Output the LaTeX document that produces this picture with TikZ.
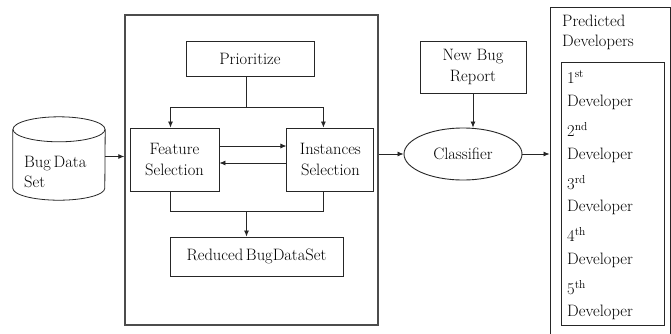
\documentclass[tikz,border=0pt]{standalone}
\usepackage{fontspec}
\usetikzlibrary{arrows.meta, positioning, shapes.geometric, calc}

\begin{document}
\begin{tikzpicture}[
  x=1pt, y=-1pt,
  font=\fontsize{16.5}{20.5}\selectfont,
  box/.style = {
    rectangle, draw=black!85, line width=0.9pt,
    align=center, inner sep=2pt
  },
  frame/.style = {rectangle, draw=black!70, line width=1.4pt, inner sep=0pt},
  oval/.style = {
    ellipse, draw=black!85, line width=0.9pt, inner sep=0pt
  },
  lbl/.style = {anchor=west, align=left, inner sep=0pt},
  link/.style = {line width=0.8pt, draw=black!85},
  arr/.style = {-{Latex[length=6pt,width=5pt]}, line width=0.8pt, draw=black!85}
]
\useasboundingbox (0,0) rectangle (671,333);
\fill[white] (0,0) rectangle (671,333);
\clip (0,0) rectangle (671,333);

% bug data set (cylinder)
\node[minimum width=92pt, minimum height=83pt, inner sep=0pt] (bds) at (59,158.5) {};
\draw[link] ([yshift=-12.5pt]bds.north) ellipse [x radius=46pt, y radius=12.5pt];
\draw[link] ([yshift=-12.5pt]bds.north west) -- ([yshift=12pt]bds.south west)
  arc[start angle=180, end angle=360, x radius=46pt, y radius=12pt]
  -- ([yshift=-12.5pt]bds.north east);
\node[lbl] (bdstxt) at (24,172) {Bug\,Data\\Set};

% reduction stage
\node[frame, minimum width=253pt, minimum height=310pt] (proc) at (251.5,170) {};
\node[box, minimum width=128pt, minimum height=35pt] (pri) at (250,58.5) {Prioritize};
\node[box, minimum width=89pt, minimum height=63pt] (fs) at (174.5,159.5) {Feature\\Selection};
\node[box, minimum width=87pt, minimum height=63pt, right=67pt of fs] (is) {Instances\\Selection};
\node[box, minimum width=173pt, minimum height=39pt] (red) at (256.5,256.5) {Reduced\,BugDataSet};

\draw[arr] ([yshift=2pt]bds.east) -- ([yshift=2pt]bds.east -| proc.west);
\draw[link] ([xshift=-4pt]pri.south) -- ++(0,31) coordinate (split);
\draw[arr] (split) -| ([xshift=-4pt]fs.north);
\draw[arr] (split) -| ([xshift=-7pt]is.north);
\draw[arr] ([yshift=13.5pt]fs.east) -- ([yshift=13.5pt]fs.east -| is.west);
\draw[arr] ([yshift=-3.5pt]is.west) -- ([yshift=-3.5pt]is.west -| fs.east);
\draw[link] ([xshift=-4pt]fs.south) |- ([xshift=-10pt,yshift=25pt]red.north)
  -| ([xshift=-7pt]is.south);
\draw[arr] ([xshift=-10pt,yshift=25pt]red.north) -- ([xshift=-10pt]red.north);

% classification
\node[oval, minimum width=118pt, minimum height=52pt] (cls) at (463,154) {Classifier};
\node[box, minimum width=106pt, minimum height=52pt] (nbr) at (473,67) {New Bug\\Report};
\draw[arr] (proc.east |- cls.west) -- (cls.west);
\draw[arr] (nbr.south) -- (nbr.south |- cls.north);

% predicted developers
\node[box, minimum width=120pt, minimum height=338pt] (pred) at (610,176) {};
\node[lbl] (predtxt) at (562,32.5) {Predicted\\Developers};
\node[box, minimum width=103pt, minimum height=263pt] (devs) at (612.5,193.5) {};
\foreach \n/\sfx in {1/st,2/nd,3/rd,4/th,5/th}
  \node[lbl] (dev\n) at (567,37.5+52.5*\n) {\n\textsuperscript{\sfx}\\[2pt]Developer};
\draw[arr] (cls.east) -- (cls.east -| pred.west);
\end{tikzpicture}
\end{document}
